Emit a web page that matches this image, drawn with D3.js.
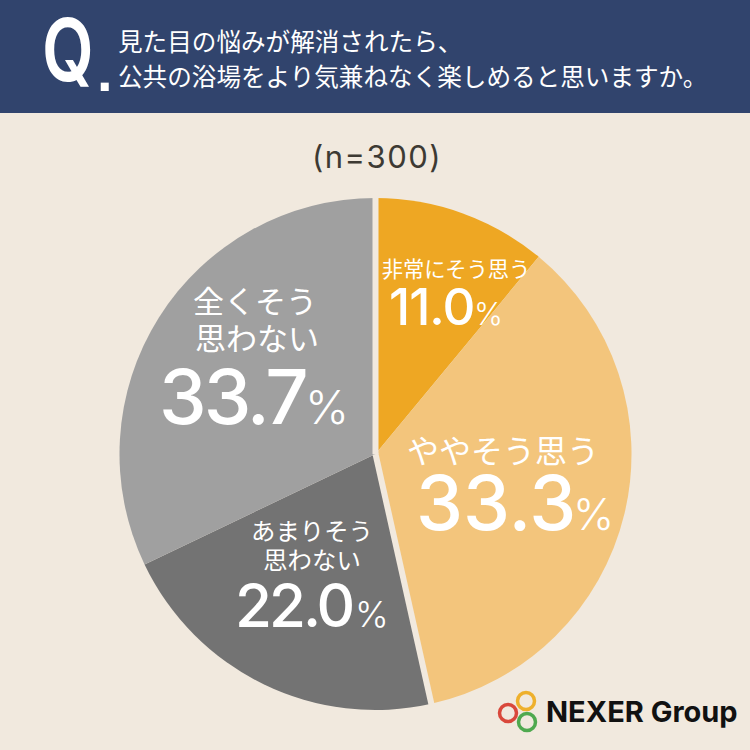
<!DOCTYPE html>
<html>
<head>
<meta charset="utf-8">
<script src="https://cdn.jsdelivr.net/npm/d3@7"></script>
<style>
  html, body { margin: 0; padding: 0; background: #f1e9de; }
  svg { display: block; }
  text { font-family: "Noto Sans CJK JP", sans-serif; }
  .num { font-family: "Inter", "Noto Sans", sans-serif; }
</style>
</head>
<body>
<svg id="chart"></svg>
<script>
var titleLines = ["見た目の悩みが解消されたら、", "公共の浴場をより気兼ねなく楽しめると思いますか。"];
var sampleLabel = "(n=300)";
var categories = ["非常にそう思う", "ややそう思う", "あまりそう思わない", "全くそう思わない"];
var percentLabels = ["11.0", "33.3", "22.0", "33.7"];
// slice sizes as drawn in the picture, they differ from the printed percentages
var drawnShares = [11.0, 35.5, 21.4, 32.1];
var sliceColors = ["#eea723", "#f3c57c", "#737373", "#a0a0a0"];

var size = 750;
var bg = "#f1e9de";
var cx = 375.5, cy = 454, radius = 256;

var svg = d3.select("#chart").attr("width", size).attr("height", size);
svg.append("rect").attr("width", size).attr("height", size).attr("fill", bg);

// header
svg.append("rect").attr("width", size).attr("height", 113).attr("fill", "#31446d");
svg.append("text").attr("class", "num")
    .attr("transform", "translate(68,81) scale(1,1.3)")
    .attr("text-anchor", "middle")
    .attr("font-size", 67).attr("font-weight", 600).attr("fill", "#fff")
    .text("Q");
svg.append("text")
    .attr("x", 97).attr("y", 91)
    .style("font-family", "'Liberation Sans'")
    .attr("font-size", 56).attr("font-weight", 700).attr("fill", "#fff")
    .text(".");
svg.selectAll(".title").data(titleLines).enter().append("text")
    .attr("class", "title")
    .attr("x", 118)
    .attr("y", (d, i) => 50.5 + i * 35)
    .attr("font-size", 24.6).attr("fill", "#fff")
    .text(d => d);

svg.append("text").attr("class", "num")
    .attr("x", 377).attr("y", 168)
    .attr("text-anchor", "middle")
    .attr("font-size", 31).attr("letter-spacing", 1.5).attr("fill", "#3d3a33")
    .text(sampleLabel);

// pie
var pie = d3.pie().sort(null);
var arcs = pie(drawnShares);
var arc = d3.arc().innerRadius(0).outerRadius(radius);
var g = svg.append("g").attr("transform", "translate(" + cx + "," + cy + ")");
g.selectAll("path").data(arcs).enter().append("path")
    .attr("d", arc)
    .attr("fill", (d, i) => sliceColors[i]);

// the gap only sits between the agree and disagree groups
var gapAngles = [arcs[0].startAngle, arcs[1].endAngle];
g.selectAll("line").data(gapAngles).enter().append("line")
    .attr("x1", 0).attr("y1", 0)
    .attr("x2", d => (radius + 4) * Math.sin(d))
    .attr("y2", d => -(radius + 4) * Math.cos(d))
    .attr("stroke", bg).attr("stroke-width", 6);

// labels
var labelLayout = [
    { lines: ["非常にそう思う"], xs: [456], ys: [276.5], fs: 21.3, num: [389, 325], numFs: 51, sp: -1, pct: [474, 31] },
    { lines: ["ややそう思う"], xs: [503], ys: [462.5], fs: 32, num: [416, 530], numFs: 75, sp: 0, pct: [573, 44] },
    { lines: ["あまりそう", "思わない"], xs: [312, 312], ys: [539.5, 569], fs: 24.4, num: [235, 627], numFs: 60, sp: -3, pct: [355, 36] },
    { lines: ["全くそう", "思わない"], xs: [255, 257], ys: [313, 350], fs: 31, num: [159, 424], numFs: 76, sp: -3, pct: [305, 47] }
];

labelLayout.forEach(function (l, i) {
    l.lines.forEach(function (t, j) {
        svg.append("text")
            .attr("x", l.xs[j]).attr("y", l.ys[j])
            .attr("text-anchor", "middle")
            .attr("font-size", l.fs).attr("font-weight", 400).attr("fill", "#fff")
            .text(t);
    });
    svg.append("text").attr("class", "num")
        .attr("x", l.num[0]).attr("y", l.num[1])
        .attr("font-size", l.numFs).attr("font-weight", 500)
        .attr("letter-spacing", l.sp).attr("fill", "#fff")
        .text(percentLabels[i]);
    svg.append("text").attr("class", "num")
        .attr("x", l.pct[0]).attr("y", l.num[1])
        .attr("font-size", l.pct[1]).attr("font-weight", 300).attr("fill", "#fff")
        .text("%");
});

// logo
var logoRings = [
    { x: 526, y: 701, color: "#eeb02c" },
    { x: 508, y: 713, color: "#d9483b" },
    { x: 527, y: 722, color: "#4fa94f" }
];
svg.selectAll(".ring").data(logoRings).enter().append("circle")
    .attr("class", "ring")
    .attr("cx", d => d.x).attr("cy", d => d.y).attr("r", 8.5)
    .attr("fill", "none").attr("stroke", d => d.color).attr("stroke-width", 3.5);
svg.append("text").attr("class", "num")
    .attr("x", 546).attr("y", 722)
    .attr("font-size", 29).attr("font-weight", 700).attr("fill", "#111")
    .text("NEXER Group");
</script>
</body>
</html>
